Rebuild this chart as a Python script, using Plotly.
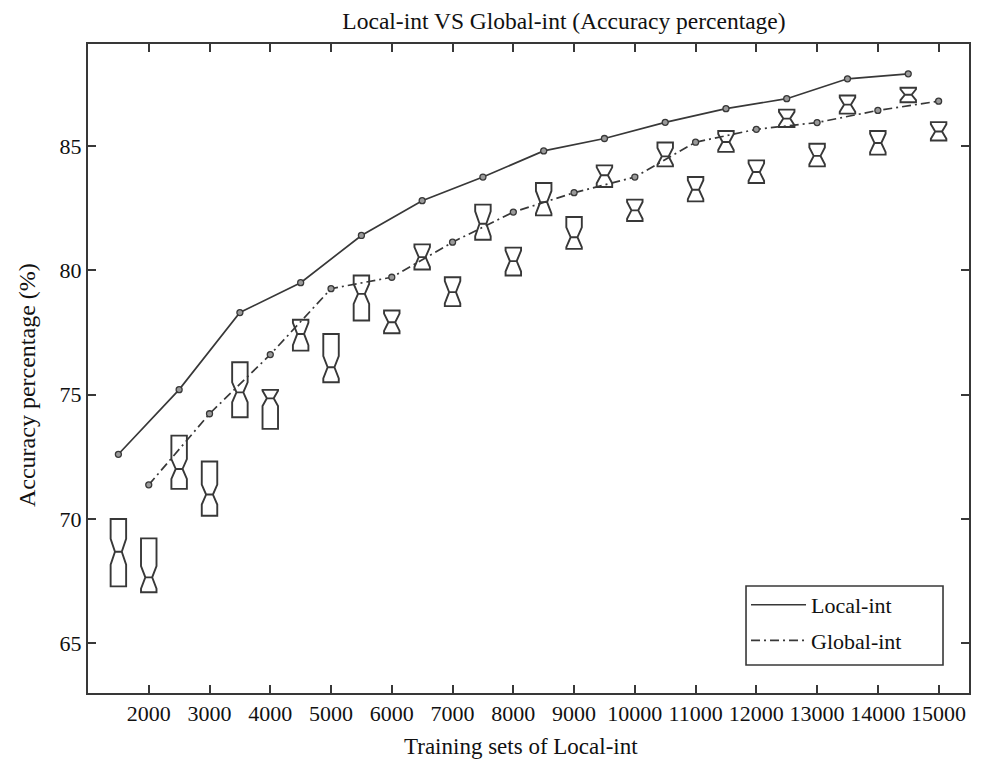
import plotly.graph_objects as go

# Line series
local_x = [1500, 2500, 3500, 4500, 5500, 6500, 7500, 8500, 9500, 10500, 11500, 12500, 13500, 14500]
local_y = [72.6, 75.2, 78.3, 79.5, 81.4, 82.8, 83.75, 84.8, 85.3, 85.95, 86.5, 86.9, 87.7, 87.9]

global_x = [2000, 3000, 4000, 5000, 6000, 7000, 8000, 9000, 10000, 11000, 12000, 13000, 14000, 15000]
global_y = [71.37, 74.23, 76.61, 79.26, 79.72, 81.13, 82.34, 83.12, 83.75, 85.15, 85.67, 85.94, 86.43, 86.8]

# Notched boxes
box_x = [1500, 2000, 2500, 3000, 3500, 4000, 4500, 5000, 5500, 6000, 6500, 7000, 7500, 8000,
         8500, 9000, 9500, 10000, 10500, 11000, 11500, 12000, 12500, 13000, 13500, 14000, 14500, 15000]
box_q3 = [70.0, 69.22, 73.35, 72.31, 76.30, 75.19, 78.01, 77.44, 79.79, 78.38, 81.04, 79.72, 82.64, 80.91,
          83.51, 82.14, 84.22, 82.84, 85.14, 83.75, 85.60, 84.42, 86.46, 85.09, 87.03, 85.60, 87.34, 85.96]
box_med = [68.68, 67.65, 72.01, 70.98, 75.09, 74.85, 77.44, 76.10, 79.05, 77.91, 80.53, 79.12, 81.87, 80.37,
           82.74, 81.33, 83.82, 82.41, 84.58, 83.24, 85.16, 83.95, 86.10, 84.60, 86.66, 85.12, 87.06, 85.58]
box_q1 = [67.29, 67.05, 71.21, 70.13, 74.09, 73.62, 76.77, 75.50, 77.98, 77.47, 80.03, 78.56, 81.23, 79.79,
          82.21, 80.86, 83.35, 81.98, 84.18, 82.77, 84.76, 83.51, 85.76, 84.18, 86.30, 84.65, 86.76, 85.22]
box_notch = [0.52, 0.45, 0.40, 0.40, 0.40, 0.31, 0.45, 0.45, 0.40, 0.35, 0.40, 0.45, 0.50, 0.42,
             0.45, 0.40, 0.32, 0.34, 0.34, 0.38, 0.32, 0.35, 0.27, 0.34, 0.29, 0.37, 0.22, 0.29]

x_ticks = [2000, 3000, 4000, 5000, 6000, 7000, 8000, 9000, 10000, 11000, 12000, 13000, 14000, 15000]
y_ticks = [65, 70, 75, 80, 85]

INK = "#383838"
TXT = "#111"
FONT = "Liberation Serif"

fig = go.Figure()

fig.add_trace(go.Box(
    x=box_x, q1=box_q1, median=box_med, q3=box_q3,
    lowerfence=box_q1, upperfence=box_q3, notchspan=box_notch,
    notched=True, notchwidth=0.28, width=255, whiskerwidth=0,
    fillcolor="rgba(0,0,0,0)", line=dict(color=INK, width=1.9),
    boxpoints=False, showlegend=False, hoverinfo="skip",
))

fig.add_trace(go.Scatter(
    x=local_x, y=local_y, mode="lines", name="Local-int",
    line=dict(color=INK, width=1.7), legendgroup="a",
))
fig.add_trace(go.Scatter(
    x=global_x, y=global_y, mode="lines", name="Global-int",
    line=dict(color=INK, width=1.7, dash="9px,4px,2px,4px"), legendgroup="b",
))
for xs, ys in ((local_x, local_y), (global_x, global_y)):
    fig.add_trace(go.Scatter(
        x=xs, y=ys, mode="markers", showlegend=False,
        marker=dict(symbol="circle", size=6, color="#9a9a9a", line=dict(color=INK, width=1.3)),
    ))

axis_common = dict(
    showline=True, linecolor=INK, linewidth=2, mirror="ticks",
    ticks="inside", ticklen=8, tickwidth=1.5, tickcolor=INK,
    showgrid=False, zeroline=False,
    tickfont=dict(family=FONT, size=22, color=TXT),
)

fig.update_layout(
    width=986, height=763,
    margin=dict(l=88, r=17, t=44, b=70),
    paper_bgcolor="white", plot_bgcolor="white",
    font=dict(family=FONT, color=TXT),
    title=dict(text="Local-int VS Global-int (Accuracy percentage)", xref="container", x=0.572,
               xanchor="center", y=0.973, yanchor="middle", font=dict(family=FONT, size=23.5, color=TXT)),
    xaxis=dict(range=[1000, 15500], tickvals=x_ticks, ticktext=[str(v) for v in x_ticks],
               **axis_common),
    yaxis=dict(range=[63, 89.1], tickvals=y_ticks, ticktext=[str(v) for v in y_ticks],
               **axis_common),
    legend=dict(x=0.7469, y=0.168, xanchor="left", yanchor="top",
                borderwidth=0, bgcolor="rgba(0,0,0,0)",
                font=dict(family=FONT, size=22, color=TXT),
                traceorder="grouped", tracegroupgap=4, itemwidth=55),
    boxmode="overlay",
    shapes=[dict(type="rect", xref="paper", yref="paper",
                 x0=0.7469, x1=0.9705, y0=0.0431, y1=0.1649,
                 line=dict(color=INK, width=1.6), fillcolor="white", layer="above")],
    annotations=[
        dict(text="Training sets of Local-int", xref="paper", yref="paper",
             x=0.4915, y=-0.0832, xanchor="center", yanchor="middle", showarrow=False,
             font=dict(family=FONT, size=23, color=TXT)),
        dict(text="Accuracy percentage (%)", xref="paper", yref="paper",
             x=-0.0692, y=0.4746, xanchor="center", yanchor="middle", showarrow=False,
             textangle=-90, font=dict(family=FONT, size=24, color=TXT)),
    ],
)

fig.write_html("out.html")
